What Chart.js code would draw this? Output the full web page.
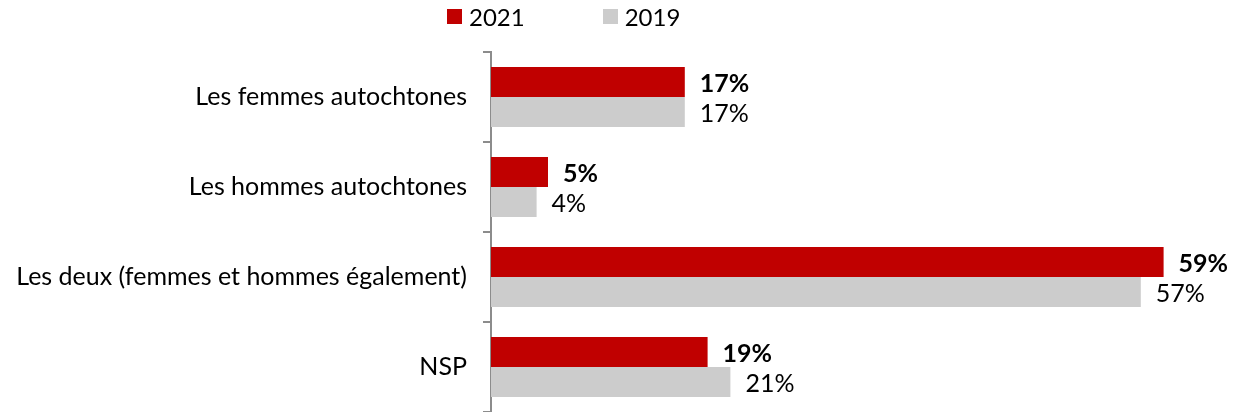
<!DOCTYPE html>
<html>
<head>
    <meta charset="utf-8">
    <title>Autochtones</title>
    <script src="https://cdn.jsdelivr.net/npm/chart.js"></script>
    <style>
        body { margin: 0; background: #fff; font-family: Lato, "Open Sans", sans-serif; }
        #wrap { position: relative; width: 1236px; height: 412px; }
        #barChart { display: block; }
        #legend { position: absolute; top: 2px; left: 447px; display: flex; font-size: 24px; color: #000; }
        #legend .item { display: flex; align-items: center; margin-right: 78px; }
        #legend .box { width: 15px; height: 15px; margin-right: 7px; }
    </style>
</head>
<body>
    <div id="wrap">
        <div id="legend"></div>
        <canvas id="barChart" width="1236" height="412"></canvas>
    </div>

    <script>
        const categories = [
            "Les femmes autochtones",
            "Les hommes autochtones",
            "Les deux (femmes et hommes également)",
            "NSP"
        ];
        const seriesNames = ["2021", "2019"];
        const values2021 = [17, 5, 59, 19];
        const values2019 = [17, 4, 57, 21];
        const colors = ["#C00000", "#CCCCCC"];

        const FONT = "Lato, 'Open Sans', sans-serif";

        // legend above the plot
        const legend = document.getElementById("legend");
        seriesNames.forEach((name, i) => {
            let item = document.createElement("div");
            item.className = "item";
            item.innerHTML = '<span class="box" style="background:' + colors[i] + '"></span><span>' + name + '</span>';
            legend.appendChild(item);
        });

        // percentage labels at the end of each bar
        const valueLabels = {
            id: "valueLabels",
            afterDatasetsDraw(chart) {
                let ctx = chart.ctx;
                ctx.save();
                ctx.textBaseline = "middle";
                ctx.textAlign = "left";
                ctx.fillStyle = "#000";
                chart.data.datasets.forEach((ds, di) => {
                    ctx.font = (di === 0 ? "bold " : "") + "25px " + FONT;
                    chart.getDatasetMeta(di).data.forEach((bar, i) => {
                        ctx.fillText(ds.data[i] + "%", bar.x + 15, bar.y + 2);
                    });
                });
                ctx.restore();
            }
        };

        new Chart(document.getElementById("barChart"), {
            type: "bar",
            data: {
                labels: categories,
                datasets: [
                    { label: seriesNames[0], data: values2021, backgroundColor: colors[0] },
                    { label: seriesNames[1], data: values2019, backgroundColor: colors[1] }
                ]
            },
            options: {
                indexAxis: "y",
                responsive: false,
                animation: false,
                categoryPercentage: 0.667,
                barPercentage: 1.0,
                layout: { padding: { top: 52, right: 4, bottom: 0, left: 0 } },
                plugins: { legend: { display: false }, tooltip: { enabled: false } },
                scales: {
                    x: { display: false, min: 0, max: 65 },
                    y: {
                        // fixed axis width, and let the bars run to the bottom edge
                        afterFit(scale) {
                            scale.width = 491;
                            scale.paddingTop = 0;
                            scale.paddingBottom = 0;
                        },
                        border: { display: true, color: "#8c8c8c", width: 2 },
                        grid: { display: true, offset: true, drawOnChartArea: false, tickLength: 8, color: "#8c8c8c", lineWidth: 2 },
                        ticks: { color: "#000", padding: 16, font: { family: FONT, size: 25 } }
                    }
                }
            },
            plugins: [valueLabels]
        });
    </script>
</body>
</html>
